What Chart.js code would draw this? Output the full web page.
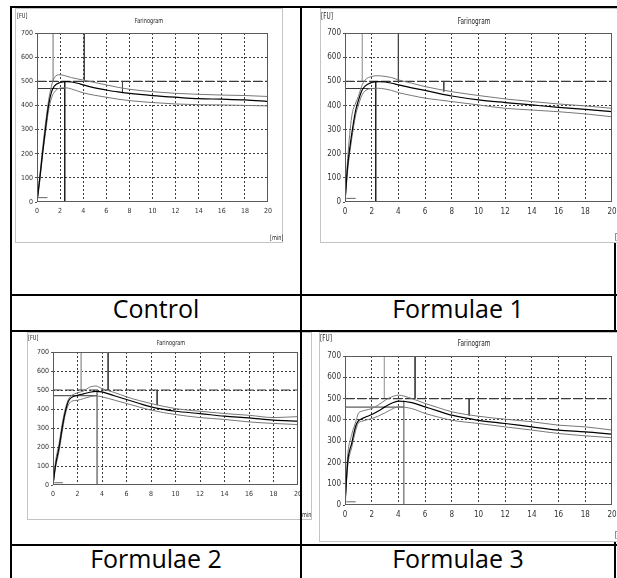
<!DOCTYPE html>
<html><head><meta charset="utf-8">
<script src="https://cdn.jsdelivr.net/npm/chart.js@4/dist/chart.umd.min.js"></script>
<style>
html,body{margin:0;padding:0;background:#fff;}
body{width:617px;height:578px;overflow:hidden;position:relative;}
.ln{position:absolute;background:#000;z-index:2;}
.box{position:absolute;background:#fff;box-shadow:inset 0 0 0 1px #c4c4c4;overflow:hidden;}
.box canvas{position:absolute;left:0;top:0;}
.sm{position:absolute;font-family:'Liberation Sans Narrow','DejaVu Sans Condensed',sans-serif;color:#222;white-space:nowrap;line-height:1;transform-origin:0 0;}
.lab{position:absolute;font-family:'Open Sans',sans-serif;font-size:25px;color:#000;white-space:nowrap;line-height:1;transform:translateX(-50%);}
</style></head><body>
<script>
// ---------- data ----------
const panelNames = ['Control', 'Formulae 1', 'Formulae 2', 'Formulae 3'];
const xTickValues = [0, 2, 4, 6, 8, 10, 12, 14, 16, 18, 20];
const yTickValues = [0, 100, 200, 300, 400, 500, 600, 700];
const timeMin = [0, 0.2, 0.5, 0.8, 1, 1.25, 1.5, 2, 2.5, 3, 3.5, 4, 5, 6, 7, 8, 10, 12, 14, 16, 18, 20];

const controlUpper  = [0, 90, 230, 350, 420, 480, 515, 527, 522, 515, 510, 505, 495, 485, 475, 467, 457, 450, 446, 443, 441, 437];
const controlMiddle = [0, 80, 210, 330, 400, 455, 480, 495, 499, 497, 492, 485, 473, 464, 456, 450, 441, 434, 428, 426, 423, 416];
const controlLower  = [0, 70, 200, 310, 380, 430, 455, 472, 473, 468, 460, 452, 442, 434, 426, 420, 412, 406, 403, 402, 400, 398];

const f1Upper  = [0, 180, 353, 410, 437, 480, 505, 520, 523, 520, 515, 506, 492, 478, 467, 457, 441, 427, 416, 406, 398, 388];
const f1Middle = [0, 150, 280, 380, 420, 460, 480, 495, 499, 497, 492, 485, 473, 462, 450, 439, 423, 412, 402, 392, 384, 374];
const f1Lower  = [0, 130, 260, 360, 400, 440, 460, 470, 471, 468, 462, 453, 441, 430, 423, 416, 402, 388, 381, 374, 365, 353];

const f2Upper  = [0, 120, 220, 340, 400, 450, 470, 485, 495, 515, 521, 507, 487, 464, 445, 429, 402, 388, 376, 367, 355, 360];
const f2Middle = [0, 100, 200, 320, 385, 440, 460, 472, 480, 488, 493, 490, 470, 450, 430, 411, 388, 376, 362, 353, 341, 336];
const f2Lower  = [0, 90, 180, 300, 370, 420, 440, 446, 455, 464, 469, 464, 447, 429, 411, 394, 371, 355, 345, 332, 324, 318];

const f3Upper  = [0, 230, 330, 390, 430, 440, 445, 453, 470, 492, 508, 516, 500, 477, 457, 438, 417, 403, 391, 375, 367, 352];
const f3Middle = [0, 200, 290, 370, 395, 405, 412, 425, 442, 461, 478, 488, 481, 461, 441, 422, 398, 383, 367, 352, 344, 333];
const f3Lower  = [0, 180, 270, 350, 385, 393, 398, 406, 418, 433, 450, 461, 453, 430, 413, 398, 383, 367, 352, 336, 325, 316];

const consistencyLine = 500;
const arrivalTimes   = [1.4, 1.3, 2.3, 2.95];
const departureTimes = [4.1, 4.0, 4.5, 5.25];
const peakTimes      = [2.4, 2.3, 3.6, 4.4];
const peakLevels     = [470, 470, 470, 460];
const toleranceTimes = [7.4, 7.4, 8.5, 9.3];
const toleranceLows  = [455, 457, 420, 420];
const tailStart = [0.1, 0.1, 0.1, 0.1];
const tailEnd   = [0.9, 0.8, 0.8, 0.8];
const tailLevel = [18, 15, 12, 15];

// ---------- layout ----------
const seriesSets = [
  [controlUpper, controlMiddle, controlLower],
  [f1Upper, f1Middle, f1Lower],
  [f2Upper, f2Middle, f2Lower],
  [f3Upper, f3Middle, f3Lower]
];
const boxes = [
  {left:15, top:8, w:268, h:235, al:37, at:33, ar:268, ab:202, fs:7, peakCol:'#222',
   fu:[2,5], title:[134,10], unit:[255,227,'[min]']},
  {left:320, top:8, w:310, h:235, al:345, at:33, ar:612, ab:202, fs:8, peakCol:'#222',
   fu:[1,5], title:[154,10], unit:[295,226,'[min]']},
  {left:27, top:332, w:285, h:188, al:53, at:352, ar:298, ab:485, fs:7, peakCol:'#888',
   fu:[1,3], title:[144,8], unit:[273,180,'[min]']},
  {left:319, top:332, w:310, h:210, al:345, at:356, ar:612, ab:505, fs:8, peakCol:'#888',
   fu:[1,3], title:[155,8], unit:[296,200,'[min]']}
];

function addLine(l,t,w,h){const d=document.createElement('div');d.className='ln';Object.assign(d.style,{left:l+'px',top:t+'px',width:w+'px',height:h+'px'});document.body.appendChild(d);}
addLine(10,6,607,2);
addLine(10,6,2,572);
addLine(300,6,2,572);
addLine(614,6,2,572);
addLine(10,294,607,2);
addLine(10,330,607,2);
addLine(10,544,607,2);

const labelPos = [[156,296],[458,296],[156,546],[458,546]];
panelNames.forEach((n,i)=>{const d=document.createElement('div');d.className='lab';d.textContent=n;d.style.left=labelPos[i][0]+'px';d.style.top=labelPos[i][1]+'px';document.body.appendChild(d);});

const framePlugin = {id:'frame', afterDatasetsDraw(chart){const {ctx, chartArea:a}=chart;ctx.save();ctx.strokeStyle='#5a5a5a';ctx.lineWidth=1;ctx.setLineDash([]);ctx.strokeRect(Math.round(a.left)+0.5,Math.round(a.top)+0.5,Math.round(a.right-a.left)-1,Math.round(a.bottom-a.top)-1);ctx.restore();}};

function seg(x1,y1,x2,y2,color,width,dash){return {data:[{x:x1,y:y1},{x:x2,y:y2}],borderColor:color,borderWidth:width,borderDash:dash||[],pointRadius:0,tension:0,fill:false};}
function curve(arr,color,width){return {data:timeMin.map((t,i)=>({x:t,y:arr[i]})),borderColor:color,borderWidth:width,pointRadius:0,cubicInterpolationMode:'monotone',fill:false};}

boxes.forEach((b,i)=>{
  const box=document.createElement('div');box.className='box';
  Object.assign(box.style,{left:b.left+'px',top:b.top+'px',width:b.w+'px',height:b.h+'px',zIndex:(i===2?1:3)});
  document.body.appendChild(box);
  const cv=document.createElement('canvas');cv.width=b.w;cv.height=b.h;cv.style.width=b.w+'px';cv.style.height=b.h+'px';box.appendChild(cv);
  const mk=(txt,x,y,fs,center)=>{const s=document.createElement('div');s.className='sm';s.textContent=txt;s.style.left=x+'px';s.style.top=y+'px';s.style.fontSize=fs+'px';s.style.transform=center?'scaleX(0.8) translateX(-50%)':'scaleX(0.8)';box.appendChild(s);};
  mk('[FU]',b.fu[0],b.fu[1],b.fs,false);
  mk('Farinogram',b.title[0],b.title[1],b.fs,true);
  mk(b.unit[2],b.unit[0],b.unit[1],b.fs,false);

  const [up,mid,lo]=seriesSets[i];
  const yw=b.al-b.left, pt=b.at-b.top, pr=(b.left+b.w)-b.ar, xh=(b.top+b.h)-b.ab;
  const tickFont={family:"'Liberation Sans Narrow','DejaVu Sans Condensed',sans-serif",size:b.fs};
  new Chart(cv,{
    type:'line',
    data:{datasets:[
      curve(mid,'#000',1.2),
      curve(up,'#777',1),
      curve(lo,'#777',1),
      seg(0,consistencyLine,20,consistencyLine,'#3a3a3a',1.2,[9,3]),
      seg(0,peakLevels[i],peakTimes[i],peakLevels[i],'#333',1),
      seg(peakTimes[i],peakLevels[i]+30,peakTimes[i],0,b.peakCol,1),
      seg(arrivalTimes[i],700,arrivalTimes[i],consistencyLine,'#aaa',1),
      seg(departureTimes[i],700,departureTimes[i],consistencyLine,'#444',1),
      seg(toleranceTimes[i],consistencyLine,toleranceTimes[i],toleranceLows[i],'#444',1),
      seg(tailStart[i],tailLevel[i],tailEnd[i],tailLevel[i],'#666',1)
    ]},
    options:{
      responsive:false,animation:false,devicePixelRatio:1,
      layout:{padding:{left:0,top:pt,right:pr,bottom:0}},
      plugins:{legend:{display:false},tooltip:{enabled:false},title:{display:false}},
      scales:{
        x:{type:'linear',min:0,max:20,
          afterBuildTicks:s=>{s.ticks=xTickValues.map(v=>({value:v}));},
          afterFit:s=>{s.height=xh;},
          ticks:{font:tickFont,color:'#333',padding:2,maxRotation:0,autoSkip:false},
          grid:{color:c=>(c.tick&&(c.tick.value===0||c.tick.value===20))?'rgba(0,0,0,0)':'#3c3c3c',tickColor:'rgba(0,0,0,0)',tickLength:3,lineWidth:1},
          border:{display:false,dash:[2,2]}},
        y:{type:'linear',min:0,max:700,
          afterBuildTicks:s=>{s.ticks=yTickValues.map(v=>({value:v}));},
          afterFit:s=>{s.width=yw;},
          ticks:{font:tickFont,color:'#333',padding:2,autoSkip:false},
          grid:{color:c=>(c.tick&&(c.tick.value===0||c.tick.value===700))?'rgba(0,0,0,0)':'#3c3c3c',tickColor:'#555',tickLength:2,lineWidth:1},
          border:{display:false,dash:[2,2]}}
      }
    },
    plugins:[framePlugin]
  });
});
</script>
</body></html>
